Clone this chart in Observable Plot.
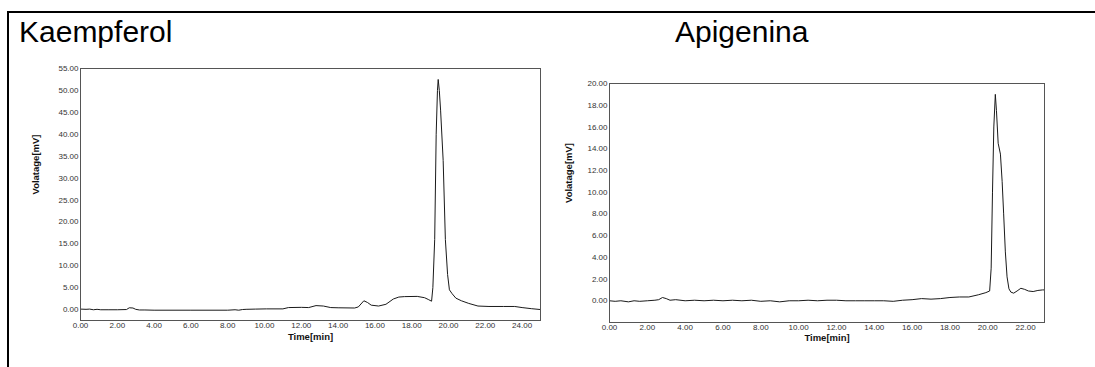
<!DOCTYPE html>
<html><head><meta charset="utf-8">
<script src="https://cdn.jsdelivr.net/npm/d3@7"></script>
<script src="https://cdn.jsdelivr.net/npm/@observablehq/plot@0.6"></script>
<style>
html,body{margin:0;padding:0;background:#fff;}
#root{position:relative;width:1095px;height:367px;overflow:hidden;font-family:Arial,"Liberation Sans",sans-serif;background:#fff;}
.bt{position:absolute;left:7px;top:11px;width:1088px;height:2px;background:#000;z-index:5;}
.bl{position:absolute;left:7px;top:11px;width:2px;height:356px;background:#000;z-index:5;}
.title{position:absolute;top:17px;font-size:30px;line-height:30px;color:#000;white-space:nowrap;}
.chart{position:absolute;top:60px;}
</style></head>
<body><div id="root">
<div class="bt"></div><div class="bl"></div>
<div class="title" id="t1" style="left:19px"></div>
<div class="title" id="t2" style="left:675px"></div>
<div class="chart" id="c1" style="left:0px"></div>
<div class="chart" id="c2" style="left:550px"></div>
</div>
<script>
// ---- data ----
const titles = ["Kaempferol", "Apigenina"];
const xLabel = "Time[min]";
const yLabel = "Volatage[mV]";

const kTime = [0,0.3,0.5,0.7,0.9,1.1,1.5,2.0,2.5,2.65,2.85,3.0,3.2,3.5,4,6,8,8.4,8.6,8.8,9.0,9.5,10.1,11.0,11.3,12.0,12.4,12.8,13.2,13.6,14.0,14.9,15.1,15.4,15.6,15.8,16.2,16.6,17.0,17.3,17.6,18.3,18.7,18.9,19.08,19.15,19.25,19.33,19.4,19.44,19.5,19.57,19.71,19.83,19.95,20.05,20.2,20.4,20.7,21.1,21.6,22.2,23.0,23.6,24.0,24.5,25.0];
const kVolt = [0.1,0.05,0.1,-0.05,0.05,-0.05,-0.05,-0.05,0.0,0.4,0.35,0.05,-0.1,-0.1,-0.15,-0.15,-0.15,-0.05,-0.15,0.0,0.05,0.1,0.15,0.15,0.45,0.5,0.45,0.9,0.8,0.45,0.4,0.35,0.6,2.0,1.6,1.0,0.8,1.2,2.4,2.85,2.95,3.0,2.7,2.3,1.9,5,16,40,50,52.5,50,45.5,34,16,8,4.5,3.6,2.6,2.0,1.4,0.8,0.7,0.7,0.7,0.45,0.2,0.0];
const kXTicks = [0,2,4,6,8,10,12,14,16,18,20,22,24];
const kYTicks = [0,5,10,15,20,25,30,35,40,45,50,55];

const aTime = [0,0.3,0.6,1.0,1.3,1.6,2.0,2.4,2.6,2.8,3.0,3.2,3.5,4.0,4.5,5.0,5.5,6.0,6.5,7.0,7.5,8.0,8.5,9.0,9.5,10.0,10.5,11.0,11.5,12.0,12.5,13.0,13.5,14.0,14.5,15.0,15.5,16.0,16.5,17.0,17.5,18.0,18.5,19.0,19.5,19.9,20.1,20.18,20.25,20.32,20.4,20.46,20.55,20.67,20.76,20.84,20.93,21.02,21.12,21.22,21.37,21.55,21.75,21.95,22.15,22.4,22.65,22.9,23.0];
const aVolt = [0.0,-0.05,0.0,-0.1,0.0,-0.05,0.0,0.05,0.1,0.3,0.2,0.05,0.1,0.0,0.05,0.0,0.05,0.0,0.05,0.0,0.05,-0.05,0.0,-0.1,0.0,0.0,0.05,0.0,0.05,0.05,0.0,0.0,0.0,0.0,0.0,-0.05,0.05,0.1,0.2,0.15,0.2,0.3,0.35,0.35,0.55,0.75,0.9,3,10,16,19.0,17.5,14.5,13.5,11,8,4.5,2.2,1.1,0.8,0.7,0.9,1.15,1.05,0.9,0.85,0.95,1.0,1.0];
const aXTicks = [0,2,4,6,8,10,12,14,16,18,20,22];
const aYTicks = [0,2,4,6,8,10,12,14,16,18,20];

document.getElementById("t1").textContent = titles[0];
document.getElementById("t2").textContent = titles[1];

const fmt = d3.format(".2f");
function chart(o) {
  return Plot.plot({
    width: o.width, height: 290,
    marginLeft: o.ml, marginRight: o.mr, marginTop: o.mt, marginBottom: o.mb,
    style: {fontSize: "8px", fontFamily: "Arial, 'Liberation Sans', sans-serif", color: "#333", background: "transparent", overflow: "visible"},
    x: {domain: o.xd},
    y: {domain: o.yd},
    marks: [
      Plot.axisX({ticks: o.xt, tickFormat: fmt, tickSize: 0, tickPadding: 2, label: null}),
      Plot.axisY({ticks: o.yt, tickFormat: fmt, tickSize: 0, tickPadding: 2, label: null}),
      Plot.line(o.t, {x: o.t, y: o.v, stroke: "#1a1a1a", strokeWidth: 1}),
      Plot.frame({stroke: "#555", strokeWidth: 1}),
      Plot.text([xLabel], {frameAnchor: "bottom", dy: o.xdy, fontWeight: "bold", fontSize: 9.5, fill: "#111"}),
      Plot.text([yLabel], {frameAnchor: "left", dx: o.ydx, rotate: -90, fontWeight: "bold", fontSize: 9.5, fill: "#111"})
    ]
  });
}
document.getElementById("c1").append(chart({width: 550, ml: 80, mr: 10, mt: 8, mb: 30, xd: [0, 25], yd: [-2.5, 55], xt: kXTicks, yt: kYTicks, t: kTime, v: kVolt, xdy: 19, ydx: -45}));
document.getElementById("c2").append(chart({width: 545, ml: 59, mr: 51, mt: 23, mb: 28, xd: [0, 23], yd: [-2, 20], xt: aXTicks, yt: aYTicks, t: aTime, v: aVolt, xdy: 18, ydx: -41}));
</script>
</body></html>
